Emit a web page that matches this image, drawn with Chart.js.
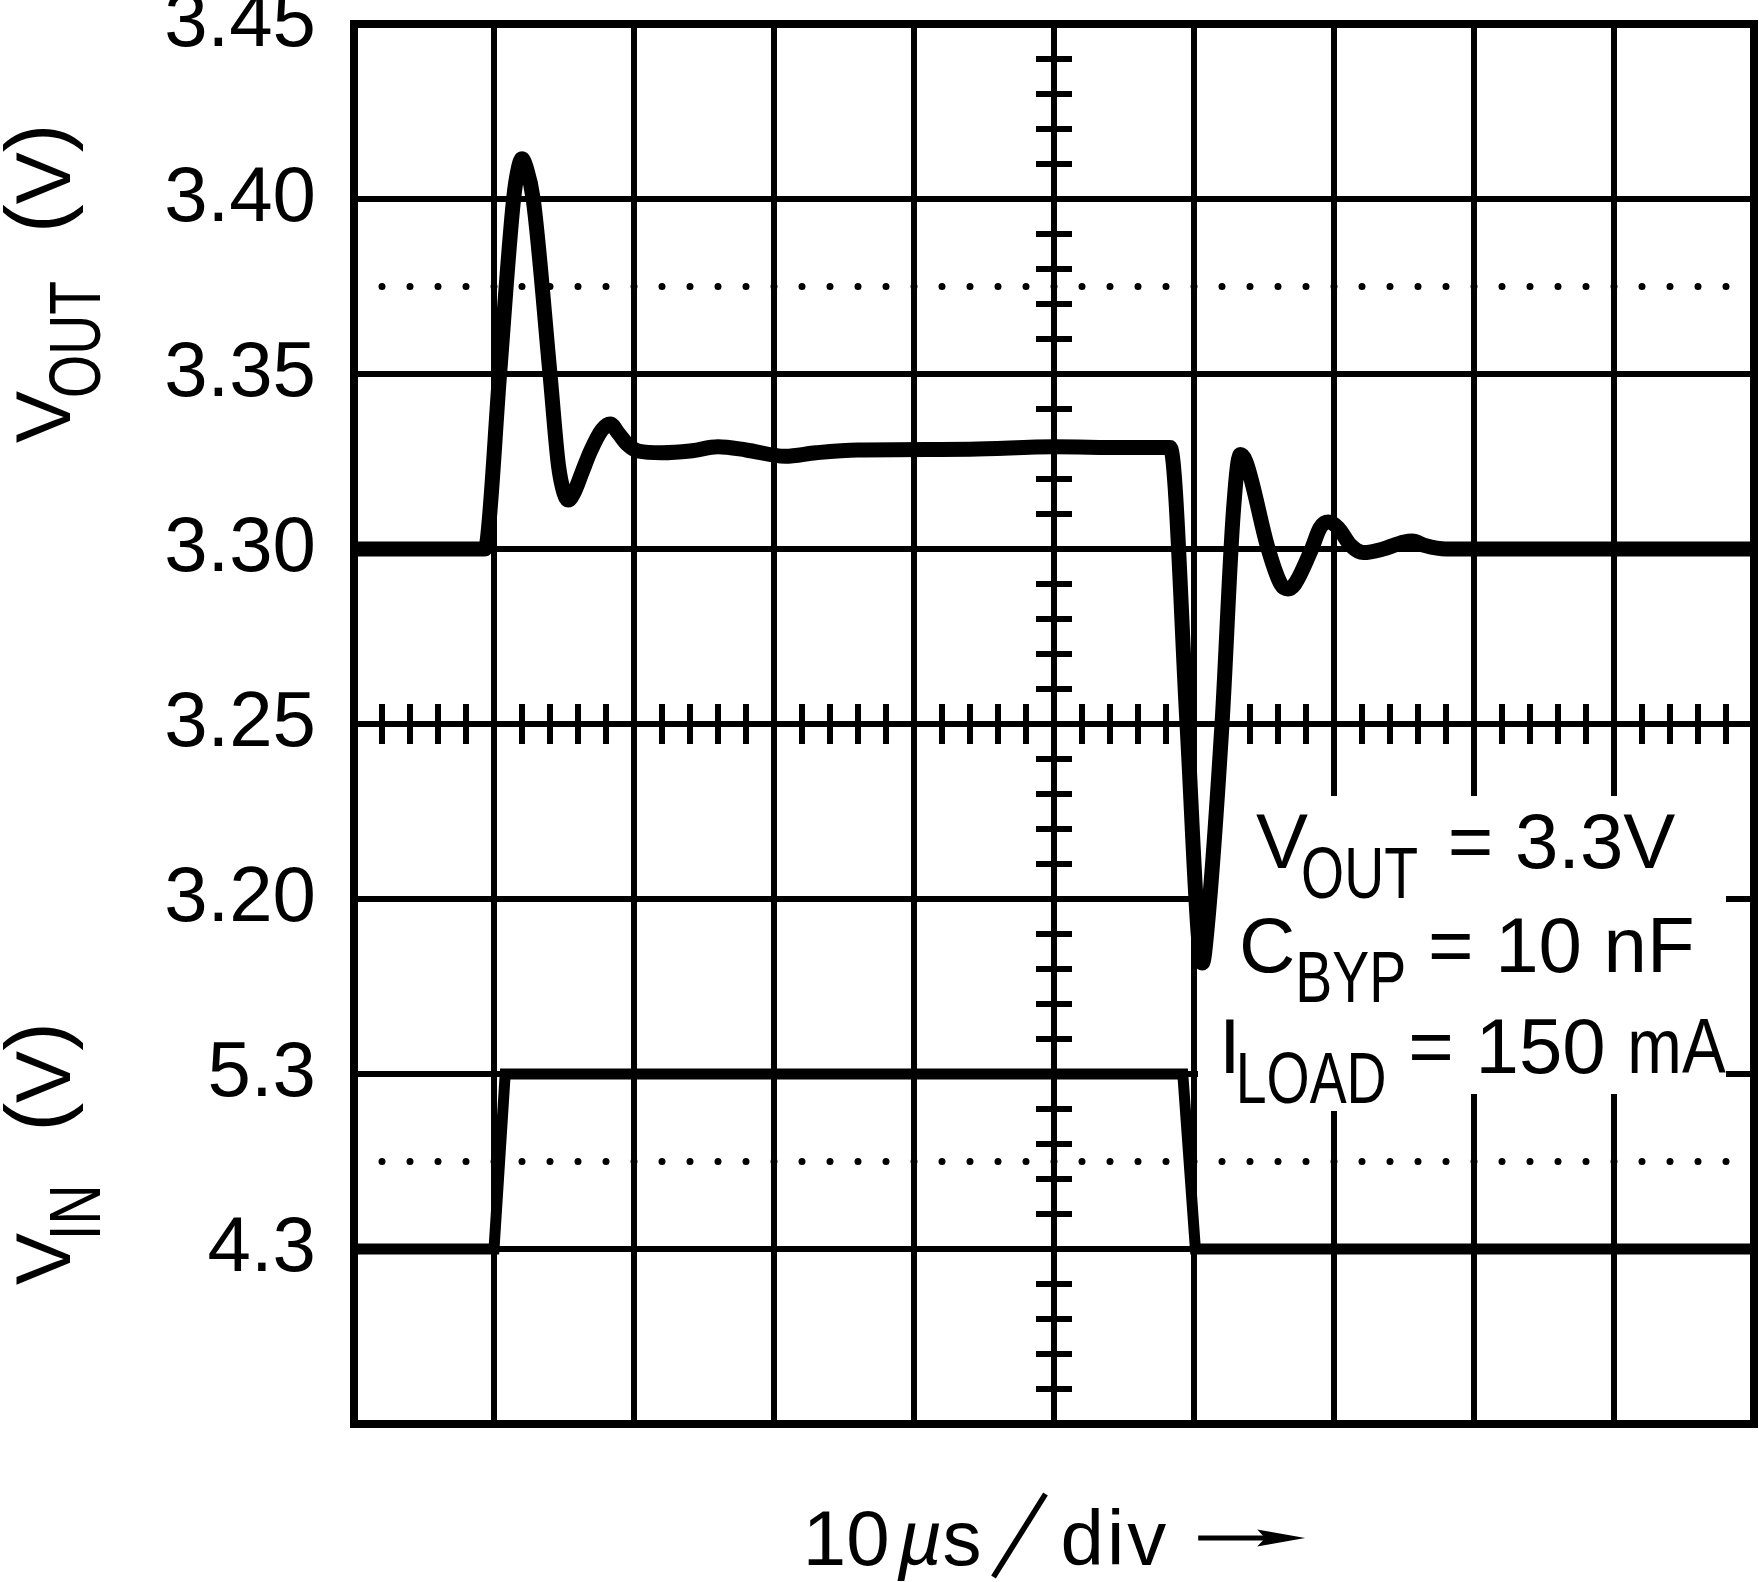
<!DOCTYPE html>
<html>
<head>
<meta charset="utf-8">
<script src="https://cdn.jsdelivr.net/npm/chart.js@4.4.1/dist/chart.umd.min.js"></script>
<style>
  html, body { margin: 0; padding: 0; background: #fff; }
  #wrap { width: 1759px; height: 1582px; position: relative; }
</style>
</head>
<body>
<div id="wrap"><canvas id="scope"></canvas></div>
<script>
// time base: 10 us/div, 10 divisions
const timeMin = 0, timeMax = 100, timeStep = 10;

// y tick labels, bottom division line to top (VOUT 50 mV/div, VIN 1 V/div)
const yTickLabels = ['', '4.3', '5.3', '3.20', '3.25', '3.30', '3.35', '3.40', '3.45'];

// output voltage trace
const voutTime = [0, 9.3, 9.5, 10.4, 11.4, 11.75, 12.0, 12.3, 12.8, 14.0, 14.6, 15.0, 15.3, 15.7, 16.3, 16.9,
    17.7, 18.3, 18.9, 19.5, 20.3, 22, 24, 26, 28, 30.8, 33, 36, 44, 50, 55, 58.3,
    59.5, 60.3, 60.6, 60.9, 62.0, 62.8, 63.3, 63.7, 65.3, 66.2, 66.7, 67.2, 68.4, 69.0,
    69.6, 70.3, 71.2, 72.1, 73.5, 75.0, 75.6, 76.5, 78, 100];
const voutVolts = [3.300, 3.300, 3.302, 3.350, 3.400, 3.409, 3.4115, 3.409, 3.400, 3.350, 3.324, 3.316, 3.314, 3.316, 3.322, 3.328,
    3.334, 3.3357, 3.333, 3.330, 3.328, 3.3275, 3.328, 3.3292, 3.3283, 3.3265, 3.3275, 3.3283, 3.3285, 3.3292, 3.329, 3.329,
    3.250, 3.190, 3.1817, 3.190, 3.250, 3.310, 3.327, 3.325, 3.300, 3.290, 3.2886, 3.290, 3.300, 3.306,
    3.3077, 3.306, 3.301, 3.299, 3.300, 3.302, 3.3023, 3.301, 3.300, 3.300];

// input voltage step
const vinTime = [0, 10.0, 10.8, 59.2, 60.1, 100];
const vinVolts = [4.3, 4.3, 5.3, 5.3, 4.3, 4.3];

// dotted graticule levels
const voutDotLevel = 3.375;
const vinDotLevel = 4.8;
const voutCentre = 3.25;

// test conditions text: [text, style, kern before]
const noteLines = [
    [['V', 'main'], ['OUT', 'sub', -7], [' = 3.3V', 'main', 8]],
    [['C', 'main'], ['BYP', 'sub', 0], [' = 10 nF', 'main']],
    [['I', 'main'], ['LOAD', 'sub', -5], [' = 150 ', 'main'], ['mA', 'narrow']]
];

// rotated axis titles
const axisTitles = [
    [['V', 'main'], ['OUT', 'sub', -7], ['(', 'paren', 48], ['V', 'main'], [')', 'paren']],
    [['V', 'main'], ['IN', 'sub', -7], ['(', 'paren', 53], ['V', 'main'], [')', 'paren']]
];

const FONT = '"Liberation Sans", Arial, sans-serif';
const mainFont = '78px ' + FONT;
const STYLES = {
    main:   { font: mainFont, sx: 1, dy: 0 },
    sub:    { font: '72px ' + FONT, sx: 0.77, dy: 30 },
    narrow: { font: mainFont, sx: 0.84, dy: 0 },
    paren:  { font: '86px ' + FONT, sx: 1, dy: -5 }
};

function toPoints(xs, ys) {
    return xs.map((x, i) => ({ x: x, y: ys[i] }));
}

// draws text made of [text, style, kern] parts, returns the width
function drawParts(ctx, parts, x, y, draw = true) {
    let pos = x;
    parts.forEach(([text, name, kern]) => {
        const st = STYLES[name];
        ctx.font = st.font;
        pos += kern || 0;
        const w = ctx.measureText(text).width * st.sx;
        if (draw) {
            ctx.save();
            ctx.translate(pos, y + st.dy);
            ctx.scale(st.sx, 1);
            ctx.fillText(text, 0, 0);
            ctx.restore();
        }
        pos += w;
    });
    return pos - x;
}

const noteX = [1256, 1239, 1219], noteY = [868, 972, 1073];
const titleStart = [443, 1285];

const graticule = {
    id: 'graticule',
    beforeDatasetsDraw(chart) {
        const { ctx, chartArea: a, scales: { x, y } } = chart;
        const cx = x.getPixelForValue((timeMin + timeMax) / 2);
        const cy = y.getPixelForValue(voutCentre);
        ctx.save();
        ctx.strokeStyle = '#000';
        ctx.lineWidth = 6;
        ctx.beginPath();
        // minor ticks on the centre axes, 5 per division
        for (let k = 0; k <= 50; k++) {
            const px = x.getPixelForValue(timeMin + k * timeStep / 5);
            ctx.moveTo(px, cy - 20);
            ctx.lineTo(px, cy + 20);
        }
        for (let k = 0; k <= 40; k++) {
            const py = a.top + k * a.height / 40;
            ctx.moveTo(cx - 18, py);
            ctx.lineTo(cx + 18, py);
        }
        ctx.stroke();
        ctx.lineWidth = 8;
        ctx.strokeRect(a.left, a.top, a.width, a.height);

        // white backing behind the test conditions
        ctx.fillStyle = '#fff';
        ctx.fillRect(1198, noteY[0] - 72, 528, noteY[2] - noteY[0] + 93);
        ctx.font = STYLES.sub.font;
        const sub3 = ctx.measureText('LOAD').width * STYLES.sub.sx;
        ctx.font = mainFont;
        const i3 = ctx.measureText('I').width;
        ctx.fillRect(noteX[2] + i3 - 9, noteY[2], sub3 + 14, 38);
        ctx.restore();
    },
    afterDraw(chart) {
        const { ctx, chartArea: a } = chart;
        ctx.save();
        ctx.fillStyle = '#000';
        ctx.strokeStyle = '#000';
        ctx.textBaseline = 'alphabetic';
        ctx.textAlign = 'left';

        // test conditions
        noteLines.forEach((parts, i) => drawParts(ctx, parts, noteX[i], noteY[i]));

        // rotated axis titles
        axisTitles.forEach((parts, i) => {
            ctx.save();
            ctx.translate(70, titleStart[i]);
            ctx.rotate(-Math.PI / 2);
            drawParts(ctx, parts, 0, 0);
            ctx.restore();
        });

        // time base title with arrow
        const cx = (a.left + a.right) / 2;
        const base = 1565;
        ctx.font = mainFont;
        const w10 = ctx.measureText('10').width;
        const wS = ctx.measureText('s').width;
        ctx.letterSpacing = '3px';
        const wDiv = ctx.measureText('div').width;
        ctx.letterSpacing = '0px';
        ctx.font = 'italic ' + mainFont;
        const wMu = ctx.measureText('\u00b5').width;
        const gapMu = 8, slashW = 79, gapArrow = 29, arrowLen = 107;
        let px = cx - (w10 + gapMu + wMu + wS + slashW + wDiv + gapArrow + arrowLen) / 2;

        ctx.font = mainFont;
        ctx.fillText('10', px, base);
        px += w10 + gapMu;
        ctx.font = 'italic ' + mainFont;
        ctx.fillText('\u00b5', px, base);
        px += wMu;
        ctx.font = mainFont;
        ctx.fillText('s', px, base);
        px += wS;
        ctx.lineWidth = 5.5;
        ctx.beginPath();
        ctx.moveTo(px + 12, base + 12);
        ctx.lineTo(px + 64, base - 71);
        ctx.stroke();
        px += slashW;
        ctx.letterSpacing = '3px';
        ctx.fillText('div', px, base);
        ctx.letterSpacing = '0px';
        px += wDiv + gapArrow;

        const ay = base - 27;
        ctx.fillRect(px, ay - 2.5, arrowLen - 40, 5);
        ctx.beginPath();
        ctx.moveTo(px + arrowLen - 48, ay - 8.5);
        ctx.lineTo(px + arrowLen, ay);
        ctx.lineTo(px + arrowLen - 48, ay + 8.5);
        ctx.lineTo(px + arrowLen - 40, ay);
        ctx.closePath();
        ctx.fill();
        ctx.restore();
    }
};

const gridWidth = 6;

new Chart(document.getElementById('scope'), {
    type: 'line',
    data: {
        datasets: [{
            label: 'VOUT',
            data: toPoints(voutTime, voutVolts),
            yAxisID: 'y',
            borderColor: '#000',
            borderWidth: 15,
            pointRadius: 0,
            cubicInterpolationMode: 'monotone',
            borderJoinStyle: 'round',
            clip: 0,
            order: 0
        }, {
            label: 'VIN',
            data: toPoints(vinTime, vinVolts),
            yAxisID: 'yIn',
            borderColor: '#000',
            borderWidth: 11,
            pointRadius: 0,
            tension: 0,
            borderJoinStyle: 'miter',
            clip: 0,
            order: 1
        }, {
            label: 'VOUT dots',
            data: toPoints([timeMin, timeMax], [voutDotLevel, voutDotLevel]),
            yAxisID: 'y',
            borderColor: '#000',
            borderWidth: 7,
            borderDash: [0, 28],
            borderCapStyle: 'round',
            pointRadius: 0,
            clip: 0,
            order: 2
        }, {
            label: 'VIN dots',
            data: toPoints([timeMin, timeMax], [vinDotLevel, vinDotLevel]),
            yAxisID: 'yIn',
            borderColor: '#000',
            borderWidth: 7,
            borderDash: [0, 28],
            borderCapStyle: 'round',
            pointRadius: 0,
            clip: 0,
            order: 2
        }]
    },
    options: {
        responsive: true,
        maintainAspectRatio: false,
        animation: false,
        events: [],
        layout: { padding: { top: 24, right: 5, left: 0, bottom: 0 } },
        plugins: { legend: { display: false }, tooltip: { enabled: false } },
        scales: {
            x: {
                type: 'linear',
                min: timeMin,
                max: timeMax,
                ticks: { stepSize: timeStep, display: false },
                grid: { color: '#000', lineWidth: gridWidth, drawTicks: false },
                border: { display: false },
                afterFit(scale) {
                    scale.height = 158;
                    scale.paddingLeft = 0;
                    scale.paddingRight = 0;
                }
            },
            y: {
                type: 'linear',
                position: 'left',
                min: 3.05,
                max: 3.45,
                ticks: {
                    stepSize: 0.05,
                    autoSkip: false,
                    padding: 38,
                    color: '#000',
                    font: { family: FONT, size: 78 },
                    callback: (v, i) => yTickLabels[i]
                },
                grid: { color: '#000', lineWidth: gridWidth, drawTicks: false },
                border: { display: false },
                afterFit(scale) {
                    scale.width = 354;
                    scale.paddingTop = 0;
                    scale.paddingBottom = 0;
                }
            },
            yIn: {
                type: 'linear',
                display: false,
                min: 3.3,
                max: 11.3
            }
        }
    },
    plugins: [graticule]
});
</script>
</body>
</html>
